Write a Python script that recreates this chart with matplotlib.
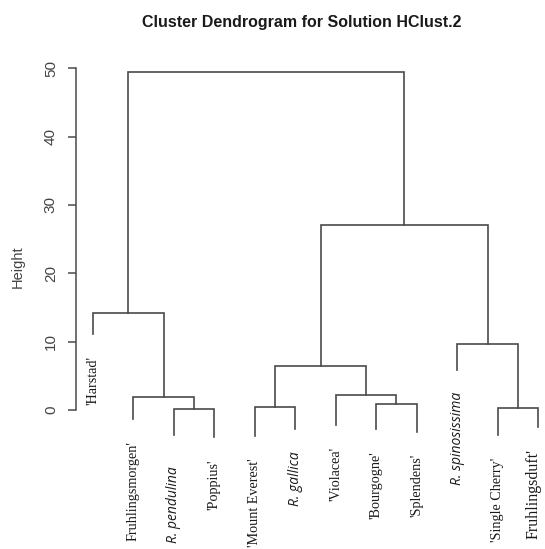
import matplotlib
matplotlib.use('Agg')
import matplotlib.pyplot as plt

# leaf labels in plotting order (left to right)
labels = ["'Harstad'", "Fruhlingsmorgen'", "R. pendulina", "'Poppius'",
          "'Mount Everest'", "R. gallica", "'Violacea'", "'Bourgogne'",
          "'Splendens'", "R. spinosissima", "'Single Cherry'", "Fruhlingsduft'"]
species = ["R. pendulina", "R. gallica", "R. spinosissima"]

# merge table in hclust style: negative = leaf index (1-based), positive = earlier merge
merge_a = [-3, -11, -5, -8, -2, -7, 3, -10, -1, 7, 9]
merge_b = [-4, -12, -6, -9, 1, 4, 6, 2, 5, 8, 10]
merge_height = [0.15, 0.25, 0.5, 0.8, 1.95, 2.15, 6.5, 9.65, 14.2, 27.1, 49.5]

# where each leaf's hanging line ends
leaf_tip = [11.1, -1.3, -3.7, -4.0, -3.8, -2.8, -2.2, -2.8, -3.2, 5.85, -3.7, -2.5]

yticks = [0, 10, 20, 30, 40, 50]

line_col = '#4a4a4a'

fig = plt.figure(figsize=(5.45, 5.49), dpi=100)
ax = fig.add_axes([76 / 545, 0, 1 - 76 / 545, 1])
ax.set_xlim(0.58, 12.17)
ax.set_ylim(-20.35, 60.0)

leaf_x = list(range(1, len(labels) + 1))
node_x = []


def child_pos(c):
    if c < 0:
        return leaf_x[-c - 1], leaf_tip[-c - 1]
    return node_x[c - 1], merge_height[c - 1]


for a, b, h in zip(merge_a, merge_b, merge_height):
    xa, ya = child_pos(a)
    xb, yb = child_pos(b)
    ax.plot([xa, xa, xb, xb], [ya, h, h, yb], color=line_col, lw=1.2,
            solid_joinstyle='miter', clip_on=False)
    node_x.append((xa + xb) / 2)

# leaf labels hang below the tips
for x, tip, lab in zip(leaf_x, leaf_tip, labels):
    dx, dy = 0, -16
    if lab in species:
        kw = dict(family='Open Sans', style='italic', fontsize=10)
        if lab == "R. pendulina":
            dy = -22
    elif lab == "Fruhlingsduft'":
        kw = dict(family='Liberation Serif', fontsize=11.5)
        dx = -3
    else:
        kw = dict(family='Liberation Serif', fontsize=10.2)
    ax.annotate(lab, (x, tip), xytext=(dx, dy), textcoords='offset points',
                rotation=90, ha='center', va='top', color='#1a1a1a',
                annotation_clip=False, **kw)

for s in ['top', 'right', 'bottom']:
    ax.spines[s].set_visible(False)
ax.spines['left'].set_bounds(0, 50)
ax.spines['left'].set_color(line_col)
ax.spines['left'].set_linewidth(1.1)
ax.set_xticks([])
ax.set_yticks(yticks)
ax.set_yticklabels([str(t) for t in yticks], rotation=90, va='center',
                   family='Liberation Sans', fontsize=11, color='#444444')
ax.tick_params(axis='y', length=6, width=1.1, color=line_col, pad=7)
ax.patch.set_visible(False)

fig.text(18 / 545, 1 - 267 / 549, 'Height', rotation=90, ha='center', va='center',
         family='Liberation Sans', fontsize=10.5, color='#444444')
fig.text(302 / 545, 1 - 22 / 549, 'Cluster Dendrogram for Solution HClust.2',
         ha='center', va='center', family='Liberation Sans', fontweight='bold',
         fontsize=11.5, color='#1a1a1a')

fig.savefig('out.png', dpi=100)
